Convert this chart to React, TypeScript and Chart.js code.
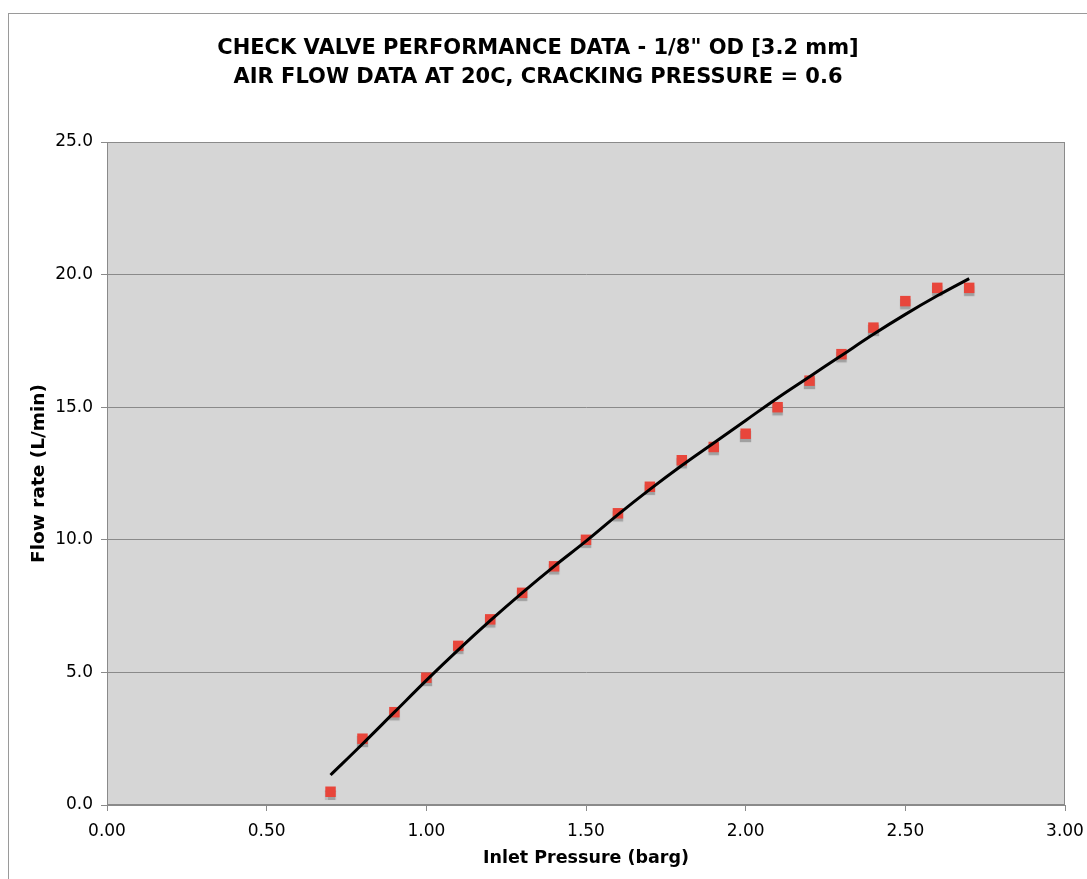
import React, { useEffect, useRef } from "react";
import { Chart, registerables } from "chart.js";

Chart.register(...registerables);

const titleLines = [
  'CHECK VALVE PERFORMANCE DATA - 1/8" OD [3.2 mm]',
  "AIR FLOW DATA AT 20C, CRACKING PRESSURE = 0.6",
];
const xAxisTitle = "Inlet Pressure (barg)";
const yAxisTitle = "Flow rate (L/min)";

const pressure = [0.7, 0.8, 0.9, 1.0, 1.1, 1.2, 1.3, 1.4, 1.5, 1.6, 1.7, 1.8, 1.9, 2.0, 2.1, 2.2, 2.3, 2.4, 2.5, 2.6, 2.7];
const flowMeasured = [0.5, 2.5, 3.5, 4.8, 6.0, 7.0, 8.0, 9.0, 10.0, 11.0, 12.0, 13.0, 13.5, 14.0, 15.0, 16.0, 17.0, 18.0, 19.0, 19.5, 19.5];
const flowTrend = [1.13, 2.3, 3.5, 4.7, 5.85, 6.95, 8.0, 9.0, 9.95, 10.95, 11.9, 12.8, 13.65, 14.5, 15.35, 16.15, 16.95, 17.75, 18.5, 19.2, 19.85];

const xMin = 0;
const xMax = 3;
const xStep = 0.5;
const yMin = 0;
const yMax = 25;
const yStep = 5;

const FONT = "'DejaVu Sans', Verdana, sans-serif";

export default function App() {
  const ref = useRef<HTMLCanvasElement | null>(null);

  useEffect(() => {
    if (!ref.current) return;

    const decor = {
      id: "decor",
      beforeDraw(chart: any) {
        const { ctx, chartArea } = chart;
        ctx.save();
        ctx.strokeStyle = "#9a9a9a";
        ctx.lineWidth = 1;
        ctx.strokeRect(8.5, 13.5, 1200, 1000);
        ctx.fillStyle = "#d6d6d6";
        ctx.fillRect(chartArea.left, chartArea.top, chartArea.right - chartArea.left, chartArea.bottom - chartArea.top);
        ctx.restore();
      },
      afterDraw(chart: any) {
        const { ctx, chartArea } = chart;
        ctx.save();
        ctx.strokeStyle = "#8a8a8a";
        ctx.lineWidth = 1;
        ctx.strokeRect(chartArea.left + 0.5, chartArea.top + 0.5, chartArea.right - chartArea.left - 1, chartArea.bottom - chartArea.top - 1);
        ctx.fillStyle = "#000";
        ctx.font = `bold 21px ${FONT}`;
        ctx.textAlign = "center";
        ctx.textBaseline = "middle";
        ctx.fillText(titleLines[0], 538, 49, 646);
        ctx.fillText(titleLines[1], 538, 78, 610);
        ctx.restore();
      },
      beforeDatasetDraw(chart: any, args: any) {
        if (args.index === 1) {
          const ctx = chart.ctx;
          ctx.save();
          ctx.shadowColor = "rgba(0,0,0,0.25)";
          ctx.shadowOffsetX = 0;
          ctx.shadowOffsetY = 3;
          ctx.shadowBlur = 1;
        }
      },
      afterDatasetDraw(chart: any, args: any) {
        if (args.index === 1) chart.ctx.restore();
      },
    };

    const chart = new Chart(ref.current, {
      type: "scatter",
      data: {
        datasets: [
          {
            type: "line",
            label: "Trend",
            data: pressure.map((x, i) => ({ x, y: flowTrend[i] })),
            borderColor: "#000",
            borderWidth: 3,
            pointRadius: 0,
            tension: 0.4,
            fill: false,
          },
          {
            type: "scatter",
            label: "Measured",
            data: pressure.map((x, i) => ({ x, y: flowMeasured[i] })),
            pointStyle: "rect",
            pointRadius: 7.4,
            backgroundColor: "#e8463b",
            borderColor: "#e8463b",
            borderWidth: 0,
          },
        ],
      },
      options: {
        responsive: false,
        animation: false,
        devicePixelRatio: 1,
        layout: { padding: { top: 142, left: 20, right: 22, bottom: 0 } },
        plugins: {
          legend: { display: false },
          title: { display: false },
          tooltip: { enabled: false },
        },
        scales: {
          x: {
            type: "linear",
            min: xMin,
            max: xMax,
            ticks: {
              stepSize: xStep,
              color: "#000",
              font: { family: FONT, size: 17 },
              padding: 10,
              maxRotation: 0,
              callback: (v: any) => Number(v).toFixed(2),
            },
            grid: { drawOnChartArea: false, drawTicks: true, tickLength: 6, color: "#8a8a8a" },
            border: { color: "#8a8a8a" },
            title: {
              display: true,
              text: xAxisTitle,
              color: "#000",
              font: { family: FONT, size: 17.5, weight: "bold" },
              padding: { top: 0, bottom: 10 },
            },
            afterFit: (s: any) => {
              s.height = 74;
              s.paddingLeft = 0;
              s.paddingRight = 0;
            },
          },
          y: {
            type: "linear",
            min: yMin,
            max: yMax,
            ticks: {
              stepSize: yStep,
              color: "#000",
              font: { family: FONT, size: 17 },
              padding: 8,
              callback: (v: any) => Number(v).toFixed(1),
            },
            grid: { drawOnChartArea: true, drawTicks: true, tickLength: 6, color: "#8a8a8a" },
            border: { color: "#8a8a8a" },
            title: {
              display: true,
              text: yAxisTitle,
              color: "#000",
              font: { family: FONT, size: 18.5, weight: "bold" },
              padding: { top: 8, bottom: 0 },
            },
            afterFit: (s: any) => {
              s.width = 87;
              s.paddingTop = 0;
              s.paddingBottom = 0;
            },
          },
        },
      },
      plugins: [decor],
    } as any);

    return () => chart.destroy();
  }, []);

  return (
    <div style={{ position: "absolute", left: 0, top: 0, width: 1087, height: 879, background: "#fff", overflow: "hidden" }}>
      <canvas ref={ref} width={1087} height={879} style={{ width: 1087, height: 879, display: "block" }} />
    </div>
  );
}
